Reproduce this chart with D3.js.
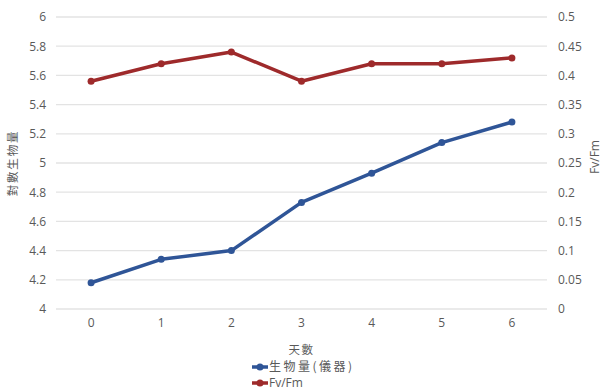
<!DOCTYPE html>
<html><head><meta charset="utf-8">
<script src="https://cdn.jsdelivr.net/npm/d3@7"></script>
<style>body{margin:0;background:#fff;}svg{display:block;}</style>
</head><body>
<script>
const days = ["0","1","2","3","4","5","6"];
const biomass = [4.18, 4.34, 4.40, 4.73, 4.93, 5.14, 5.28];
const fvfm = [0.39, 0.42, 0.44, 0.39, 0.42, 0.42, 0.43];
const leftTicks = [4, 4.2, 4.4, 4.6, 4.8, 5, 5.2, 5.4, 5.6, 5.8, 6];
const rightTicks = [0, 0.05, 0.1, 0.15, 0.2, 0.25, 0.3, 0.35, 0.4, 0.45, 0.5];
const seriesNames = ["生物量(儀器)", "Fv/Fm"];
const colors = ["#2f5597", "#9e2a2b"];

const W = 604, H = 392;
const svg = d3.select("body").append("svg").attr("width", W).attr("height", H);
const x = d3.scaleBand().domain(days).range([56, 547]);
const yL = d3.scaleLinear().domain([4, 6]).range([309, 17]);
const yR = d3.scaleLinear().domain([0, 0.5]).range([309, 17]);
const cx = d => x(d) + x.bandwidth() / 2;

// gridlines
svg.append("g").selectAll("line").data(leftTicks).join("line")
  .attr("x1", 56).attr("x2", 547)
  .attr("y1", d => yL(d)).attr("y2", d => yL(d))
  .attr("stroke", "#e3e3e3").attr("stroke-width", 1.3);

const fontNum = "'Open Sans', 'Liberation Sans', sans-serif";
const fontCJK = "'Noto Sans CJK TC', sans-serif";

// left axis
const gL = svg.append("g").attr("transform", "translate(46,0)")
  .call(d3.axisLeft(yL).tickValues(leftTicks).tickSize(0).tickPadding(0).tickFormat(d3.format("~g")));
gL.select(".domain").remove();
gL.selectAll("text").attr("fill", "#595959").style("font-family", fontNum).style("font-size", "12px");

// right axis
const gR = svg.append("g").attr("transform", "translate(558,0)")
  .call(d3.axisRight(yR).tickValues(rightTicks).tickSize(0).tickPadding(0).tickFormat(d3.format("~g")));
gR.select(".domain").remove();
gR.selectAll("text").attr("fill", "#595959").style("font-family", fontNum).style("font-size", "12px");

// x axis
const gX = svg.append("g").attr("transform", "translate(0,318)")
  .call(d3.axisBottom(x).tickSize(0).tickPadding(0));
gX.select(".domain").remove();
gX.selectAll("text").attr("fill", "#595959").attr("dy", "0.71em").style("font-family", fontNum).style("font-size", "12px");

// axis titles
svg.append("text").attr("transform", "translate(17,163) rotate(-90)")
  .attr("text-anchor", "middle").attr("fill", "#595959")
  .style("font-family", fontCJK).style("font-size", "11.5px").style("letter-spacing", "1.8px").text("對數生物量");
svg.append("text").attr("transform", "translate(599,157) rotate(-90)")
  .attr("text-anchor", "middle").attr("fill", "#595959")
  .style("font-family", fontNum).style("font-size", "12px").text("Fv/Fm");
svg.append("text").attr("x", cx("3")).attr("y", 354)
  .attr("text-anchor", "middle").attr("fill", "#595959")
  .style("font-family", fontCJK).style("font-size", "11.5px").style("letter-spacing", "1.5px").text("天數");

// lines
const series = [
  {vals: biomass, y: yL, color: colors[0]},
  {vals: fvfm, y: yR, color: colors[1]}
];
series.forEach(s => {
  const line = d3.line().x((d, i) => cx(days[i])).y(d => s.y(d));
  svg.append("path").datum(s.vals).attr("d", line)
    .attr("fill", "none").attr("stroke", s.color).attr("stroke-width", 3.5)
    .attr("stroke-linejoin", "round");
  svg.append("g").selectAll("circle").data(s.vals).join("circle")
    .attr("cx", (d, i) => cx(days[i])).attr("cy", d => s.y(d)).attr("r", 3.5)
    .attr("fill", s.color);
});

// legend
const lg = svg.append("g");
seriesNames.forEach((n, i) => {
  const yy = 367 + i * 16;
  lg.append("line").attr("x1", 252).attr("x2", 268).attr("y1", yy).attr("y2", yy)
    .attr("stroke", colors[i]).attr("stroke-width", 3.5);
  lg.append("circle").attr("cx", 260).attr("cy", yy).attr("r", 3.5).attr("fill", colors[i]);
  lg.append("text").attr("x", 269).attr("y", yy).attr("dy", "0.35em").attr("fill", "#595959")
    .style("font-family", i === 0 ? fontCJK : fontNum).style("font-size", i === 0 ? "12px" : "12px")
    .style("letter-spacing", i === 0 ? "2.5px" : "0px").text(n);
});
</script>
</body></html>
